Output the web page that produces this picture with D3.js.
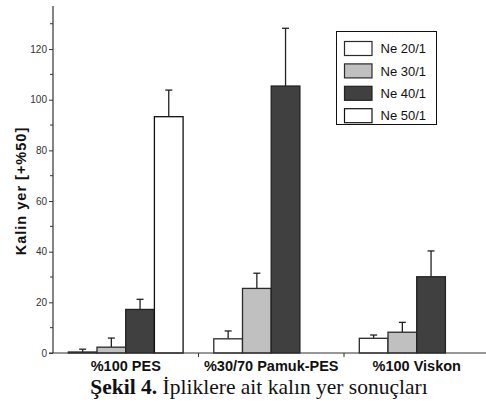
<!DOCTYPE html>
<html>
<head>
<meta charset="utf-8">
<script src="https://cdn.jsdelivr.net/npm/d3@7"></script>
<style>
  html, body { margin: 0; padding: 0; background: #fff; }
  svg { display: block; }
</style>
</head>
<body>
<svg id="chart" width="486" height="403"></svg>
<script>
// Yarn types and thick-place (+50%) counts per yarn count
const categories = ["%100 PES", "%30/70 Pamuk-PES", "%100 Viskon"];
const seriesNames = ["Ne 20/1", "Ne 30/1", "Ne 40/1", "Ne 50/1"];
const ne20 = [0.4, 5.6, 5.8];
const ne30 = [2.3, 25.5, 8.2];
const ne40 = [17.2, 105.4, 30.1];
const ne50 = [93.3, null, null];
// standard deviations (error bars)
const err20 = [1.1, 3.1, 1.3];
const err30 = [3.6, 6.0, 3.9];
const err40 = [4.0, 22.8, 10.2];
const err50 = [10.5, null, null];
const yTicks = [0, 20, 40, 60, 80, 100, 120];
const yMinorTicks = [10, 30, 50, 70, 90, 110, 130];
const yLabel = "Kalin yer [+%50]";
const caption = { bold: "Şekil 4.", rest: " İpliklere ait kalın yer sonuçları" };

const fills = ["#ffffff", "#c0c0c0", "#404040", "#ffffff"];
const strokes = ["#2a2a2a", "#2a2a2a", "#222222", "#111111"];

const values = [ne20, ne30, ne40, ne50];
const errors = [err20, err30, err40, err50];

const svg = d3.select("#chart");
const axisColor = "#333";

const x0 = d3.scaleBand().domain(categories).range([53, 489.5]).padding(0);
const x1 = d3.scaleBand().domain(seriesNames)
  .range([15.3, x0.bandwidth() - 15.4]).padding(0);
const y = d3.scaleLinear().domain([0, 137]).range([353, 6]);

// bars
const rows = [];
seriesNames.forEach((s, si) => {
  categories.forEach((c, ci) => {
    const v = values[si][ci];
    if (v != null) rows.push({ s, si, c, v, e: errors[si][ci] });
  });
});

const g = svg.append("g");

// error bars (drawn first so the bar outline sits on top)
g.selectAll("line.err").data(rows).join("line")
  .attr("class", "err")
  .attr("x1", d => x0(d.c) + x1(d.s) + x1.bandwidth() / 2)
  .attr("x2", d => x0(d.c) + x1(d.s) + x1.bandwidth() / 2)
  .attr("y1", d => y(d.v))
  .attr("y2", d => y(d.v + d.e))
  .attr("stroke", "#222").attr("stroke-width", 1.3);
g.selectAll("line.cap").data(rows).join("line")
  .attr("class", "cap")
  .attr("x1", d => x0(d.c) + x1(d.s) + x1.bandwidth() / 2 - 3.5)
  .attr("x2", d => x0(d.c) + x1(d.s) + x1.bandwidth() / 2 + 3.5)
  .attr("y1", d => y(d.v + d.e))
  .attr("y2", d => y(d.v + d.e))
  .attr("stroke", "#222").attr("stroke-width", 1.3);

g.selectAll("rect.bar").data(rows).join("rect")
  .attr("class", "bar")
  .attr("x", d => x0(d.c) + x1(d.s))
  .attr("y", d => y(d.v))
  .attr("width", x1.bandwidth())
  .attr("height", d => y(0) - y(d.v))
  .attr("fill", d => fills[d.si])
  .attr("stroke", d => strokes[d.si])
  .attr("stroke-width", 1.3);

// y axis
const yAxis = svg.append("g").attr("transform", "translate(53,0)")
  .call(d3.axisLeft(y).tickValues(yTicks).tickSize(4).tickPadding(2).tickFormat(d3.format("d")));
yAxis.select(".domain").remove();
yAxis.append("line").attr("x1", 0).attr("x2", 0).attr("y1", y(0)).attr("y2", y(137))
  .attr("stroke", axisColor).attr("stroke-width", 1.2);
yAxis.selectAll(".tick line").attr("stroke", axisColor);
yAxis.selectAll(".tick text")
  .attr("fill", "#333")
  .style("font-family", "'Liberation Sans Narrow', 'Liberation Sans', Arial, sans-serif")
  .style("font-size", "10px");
yAxis.selectAll("line.minor").data(yMinorTicks).join("line")
  .attr("class", "minor")
  .attr("x1", -3).attr("x2", 0)
  .attr("y1", d => y(d)).attr("y2", d => y(d))
  .attr("stroke", axisColor);

// x axis
const xAxis = svg.append("g").attr("transform", `translate(0,${y(0)})`);
xAxis.append("line").attr("x1", 49).attr("x2", 489.5).attr("y1", 0).attr("y2", 0)
  .attr("stroke", axisColor).attr("stroke-width", 1.2);
xAxis.selectAll("line.sep").data(categories.slice(1)).join("line")
  .attr("class", "sep")
  .attr("x1", d => x0(d)).attr("x2", d => x0(d))
  .attr("y1", 0).attr("y2", 4)
  .attr("stroke", axisColor);
xAxis.selectAll("text").data(categories).join("text")
  .attr("x", d => x0(d) + x0.bandwidth() / 2)
  .attr("y", 18)
  .attr("text-anchor", "middle")
  .style("font-family", "'Liberation Sans', Arial, sans-serif")
  .style("font-weight", "bold")
  .style("font-size", "14.5px")
  .attr("fill", "#111")
  .text(d => d);

// y label
svg.append("text")
  .attr("transform", `translate(26,${191}) rotate(-90)`)
  .attr("text-anchor", "middle")
  .style("font-family", "'Liberation Sans', Arial, sans-serif")
  .style("font-weight", "bold")
  .style("font-size", "14.5px")
  .style("letter-spacing", "1px")
  .attr("fill", "#111")
  .text(yLabel);

// legend
const legend = svg.append("g").attr("transform", "translate(336.5,31.5)");
legend.append("rect").attr("width", 100).attr("height", 93)
  .attr("fill", "#fff").attr("stroke", "#111").attr("stroke-width", 1);
const item = legend.selectAll("g.item").data(seriesNames).join("g")
  .attr("class", "item")
  .attr("transform", (d, i) => `translate(8,${10 + i * 22.4})`);
item.append("rect").attr("width", 27.5).attr("height", 14)
  .attr("fill", (d, i) => fills[i]).attr("stroke", (d, i) => strokes[i]).attr("stroke-width", 1.2);
item.append("text").attr("x", 36).attr("y", 7).attr("dy", "0.36em")
  .style("font-family", "'Liberation Sans', Arial, sans-serif")
  .style("font-size", "13px")
  .attr("fill", "#111")
  .text(d => d);

// caption
const cap = svg.append("text")
  .attr("x", 259).attr("y", 394)
  .attr("text-anchor", "middle")
  .style("font-family", "'Liberation Serif', 'DejaVu Serif', serif")
  .style("font-size", "21.5px")
  .attr("fill", "#111");
cap.append("tspan").style("font-weight", "bold").text(caption.bold);
cap.append("tspan").text(caption.rest);
</script>
</body>
</html>
